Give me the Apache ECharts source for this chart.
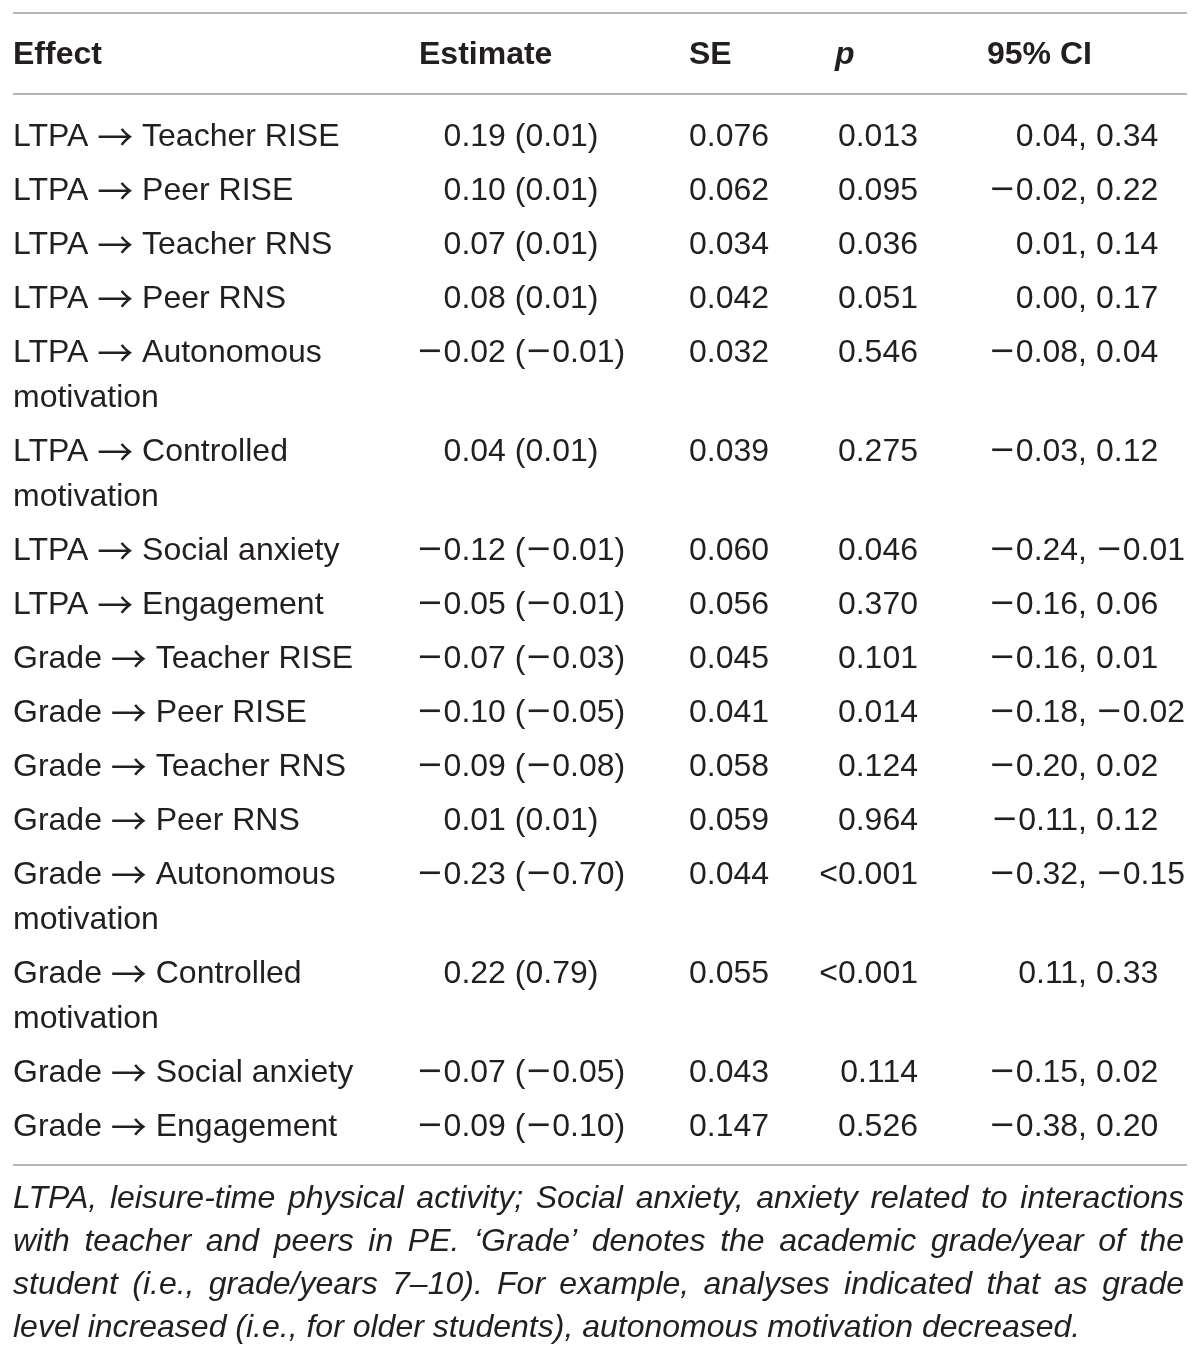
<!DOCTYPE html>
<html>
<head>
<meta charset="utf-8">
<script src="https://cdn.jsdelivr.net/npm/echarts@6/dist/echarts.min.js"></script>
<style>
html,body{margin:0;padding:0;background:#fff;}
#main{width:1200px;height:1355px;}
</style>
</head>
<body>
<div id="main"></div>
<script>
/* 表格数据 */
var headers = ['Effect', 'Estimate', 'SE', 'p', '95% CI'];
var effects = [
	'LTPA → Teacher RISE',
	'LTPA → Peer RISE',
	'LTPA → Teacher RNS',
	'LTPA → Peer RNS',
	'LTPA → Autonomous\nmotivation',
	'LTPA → Controlled\nmotivation',
	'LTPA → Social anxiety',
	'LTPA → Engagement',
	'Grade → Teacher RISE',
	'Grade → Peer RISE',
	'Grade → Teacher RNS',
	'Grade → Peer RNS',
	'Grade → Autonomous\nmotivation',
	'Grade → Controlled\nmotivation',
	'Grade → Social anxiety',
	'Grade → Engagement'
];
var estimates = ['0.19 (0.01)', '0.10 (0.01)', '0.07 (0.01)', '0.08 (0.01)', '−0.02 (−0.01)', '0.04 (0.01)',
	'−0.12 (−0.01)', '−0.05 (−0.01)', '−0.07 (−0.03)', '−0.10 (−0.05)', '−0.09 (−0.08)', '0.01 (0.01)',
	'−0.23 (−0.70)', '0.22 (0.79)', '−0.07 (−0.05)', '−0.09 (−0.10)'];
var seValues = ['0.076', '0.062', '0.034', '0.042', '0.032', '0.039', '0.060', '0.056',
	'0.045', '0.041', '0.058', '0.059', '0.044', '0.055', '0.043', '0.147'];
var pValues = ['0.013', '0.095', '0.036', '0.051', '0.546', '0.275', '0.046', '0.370',
	'0.101', '0.014', '0.124', '0.964', '<0.001', '<0.001', '0.114', '0.526'];
var ciLow = ['0.04', '−0.02', '0.01', '0.00', '−0.08', '−0.03', '−0.24', '−0.16',
	'−0.16', '−0.18', '−0.20', '−0.11', '−0.32', '0.11', '−0.15', '−0.38'];
var ciHigh = ['0.34', '0.22', '0.14', '0.17', '0.04', '0.12', '−0.01', '0.06',
	'0.01', '−0.02', '0.02', '0.12', '−0.15', '0.33', '0.02', '0.20'];
var noteLines = [
	'LTPA, leisure-time physical activity; Social anxiety, anxiety related to interactions',
	'with teacher and peers in PE. ‘Grade’ denotes the academic grade/year of the',
	'student (i.e., grade/years 7–10). For example, analyses indicated that as grade',
	'level increased (i.e., for older students), autonomous motivation decreased.'
];

var FONT = '"Liberation Sans", Arial, Helvetica, sans-serif';
var SYM_FONT = '"DejaVu Sans", sans-serif';
var ARROW_FONT = '"Noto Sans CJK SC", "DejaVu Sans", sans-serif';
var TXT = '#231f20';
var FS = 32;
var WRAP = 45 / 54; // 换行占一行的比例

// 每行的位置（行单位），折行的行多占一些
var rowPos = [];
var acc = 0;
effects.forEach(function(e, i){
	rowPos.push(acc);
	acc += 1 + (e.split('\n').length - 1) * WRAP;
});
var seriesData = rowPos.map(function(p, i){ return [0, p, i]; });

// 减号用 DejaVu Sans（更宽），箭头用细一点的字体
function fmt(s){
	return s.replace(/−/g, '{m|−}').replace(/→/g, '{a|→}');
}
function richStyles(lh){
	return {
		m: {fill: TXT, font: 'normal ' + FS + 'px ' + SYM_FONT, lineHeight: lh},
		a: {fill: TXT, font: 'normal 36px ' + ARROW_FONT, lineHeight: lh}
	};
}

function txt(x, y, s, align, vAlign, lh){
	lh = lh || 40;
	return {
		type: 'text',
		style: {
			x: x, y: y, text: fmt(s),
			fill: TXT,
			font: 'normal ' + FS + 'px ' + FONT,
			lineHeight: lh,
			rich: richStyles(lh),
			align: align,
			verticalAlign: vAlign
		}
	};
}

function renderRow(params, api){
	var i = api.value(2);
	var pt = api.coord([0, api.value(1)]);
	var y = pt[1];
	return {
		type: 'group',
		children: [
			txt(13, y - 22.5, effects[i], 'left', 'top', 45),
			txt(521, y, estimates[i], 'center', 'middle'),
			txt(689, y, seValues[i], 'left', 'middle'),
			txt(918, y, pValues[i], 'right', 'middle'),
			txt(1087, y, ciLow[i] + ',', 'right', 'middle'),
			txt(1096, y, ciHigh[i], 'left', 'middle')
		]
	};
}

/* 表注：两端对齐 */
var measureCtx = document.createElement('canvas').getContext('2d');
var noteFont = 'italic 32px ' + FONT;
measureCtx.font = noteFont;
var noteElems = [];
noteLines.forEach(function(line, li){
	var words = line.split(' ');
	var y = 1199 + li * 43;
	var left = 13, right = 1184;
	var wsum = 0;
	words.forEach(function(w){ wsum += measureCtx.measureText(w).width; });
	var gap = measureCtx.measureText(' ').width;
	if(li < noteLines.length - 1 && words.length > 1){
		gap = (right - left - wsum) / (words.length - 1);
	}
	var x = left;
	words.forEach(function(w){
		noteElems.push({
			type: 'text',
			style: {x: x, y: y, text: w, fill: TXT, font: noteFont, align: 'left', verticalAlign: 'middle'}
		});
		x += measureCtx.measureText(w).width + gap;
	});
});

var headerX = [13, 419, 689, 835, 987];
var headerElems = headers.map(function(h, i){
	return {
		type: 'text',
		style: {
			x: headerX[i], y: 55, text: h, fill: TXT,
			font: (i == 3 ? 'italic ' : 'normal ') + 'bold ' + FS + 'px ' + FONT,
			align: 'left', verticalAlign: 'middle'
		}
	};
});

var ruleElems = [13, 94, 1165].map(function(yy){
	return {
		type: 'line',
		shape: {x1: 13, y1: yy, x2: 1187, y2: yy},
		style: {stroke: '#b5b5b5', lineWidth: 2}
	};
});

var chart = echarts.init(document.getElementById('main'));
var option = {
	backgroundColor: '#fff',
	animation: false,
	grid: {left: 0, right: 0, top: 137, bottom: 138},
	xAxis: {type: 'value', min: 0, max: 1200, show: false},
	yAxis: {type: 'value', min: 0, max: 20, inverse: true, show: false},
	graphic: ruleElems.concat(headerElems).concat(noteElems),
	series: [{
		type: 'custom',
		clip: false,
		renderItem: renderRow,
		data: seriesData
	}]
};
chart.setOption(option);
</script>
</body>
</html>
